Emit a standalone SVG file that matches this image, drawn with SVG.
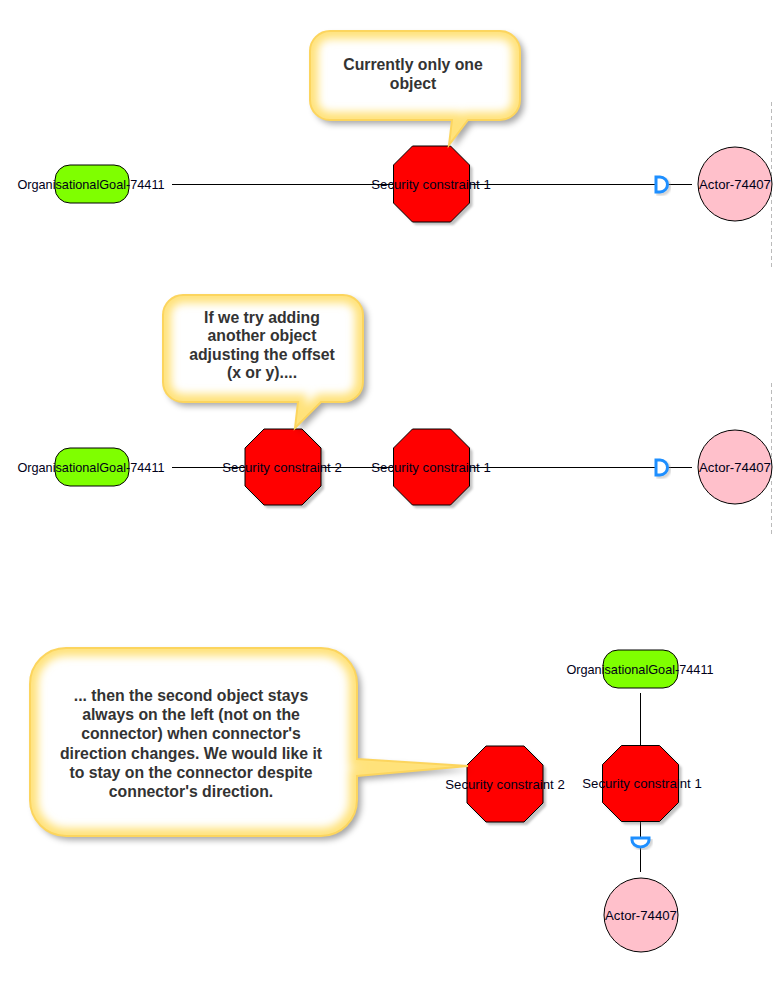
<svg xmlns="http://www.w3.org/2000/svg" xmlns:xlink="http://www.w3.org/1999/xlink" width="779" height="981" viewBox="0 0 779 981">
<style>
.oct{fill:#ff0000;stroke:#000;stroke-width:1}
.octsh{fill:#777;opacity:0.45}
.goal{fill:#7fff00;stroke:#000;stroke-width:1}
.actor{fill:#ffc0cb;stroke:#000;stroke-width:1}
.lbl{font-family:"Liberation Sans",Arial,sans-serif;font-size:13.2px;fill:#000018;text-anchor:middle}
.glbl{font-size:12.7px}
.ctext{font-family:"Liberation Sans",Arial,sans-serif;font-size:15.8px;font-weight:bold;fill:#333;text-anchor:middle}
.conn{stroke:#000;stroke-width:1;fill:none}
.mark{fill:#fff;stroke:#1e8fff;stroke-width:3}
.marksh{fill:none;stroke:#999;stroke-width:3;opacity:0.5}
.cfill{fill:#fff}
.cglow{fill:none;stroke:#ffe27a;stroke-width:16}
.cborder{fill:none;stroke:#fcd55e;stroke-width:2}
.dash{stroke:#bbb;stroke-width:1;stroke-dasharray:4 3}
</style>
<defs>
<polygon id="octagon" points="-19,-38 19,-38 38,-19 38,19 19,38 -19,38 -38,19 -38,-19"/>
<filter id="shadow" x="-20%" y="-20%" width="150%" height="150%">
<feDropShadow dx="4" dy="4" stdDeviation="3" flood-color="#000" flood-opacity="0.35"/>
</filter>
<filter id="blur2"><feGaussianBlur stdDeviation="1.2"/></filter>
<filter id="glow" x="-10%" y="-10%" width="120%" height="120%"><feGaussianBlur stdDeviation="4"/></filter>
<path id="cb1" d="M330,31 H500 A20,20 0 0 1 520,51 V100 A20,20 0 0 1 500,120 H468 L449,145 L452,120 H330 A20,20 0 0 1 310,100 V51 A20,20 0 0 1 330,31 Z"/>
<path id="cb2" d="M183,295 H343 A20,20 0 0 1 363,315 V382 A20,20 0 0 1 343,402 H321 L295,428 L298,402 H183 A20,20 0 0 1 163,382 V315 A20,20 0 0 1 183,295 Z"/>
<path id="cb3" d="M66,648 H321 A36,36 0 0 1 357,684 V759 L468,766 L357,776 V800 A36,36 0 0 1 321,836 H66 A36,36 0 0 1 30,800 V684 A36,36 0 0 1 66,648 Z"/>
<clipPath id="cc1"><use xlink:href="#cb1"/></clipPath>
<clipPath id="cc2"><use xlink:href="#cb2"/></clipPath>
<clipPath id="cc3"><use xlink:href="#cb3"/></clipPath>
</defs>

<rect width="779" height="981" fill="#fff"/>
<line class="dash" x1="771.5" y1="102" x2="771.5" y2="267"/>
<line class="dash" x1="771.5" y1="383" x2="771.5" y2="535"/>

<g id="connectors">
<line class="conn" x1="172" y1="184.5" x2="692" y2="184.5"/>
<path class="marksh" d="M658,179 H662 A7.5,7.5 0 0 1 662,194 H658 Z" filter="url(#blur2)"/>
<path class="mark" d="M656,177 H660 A7.5,7.5 0 0 1 660,192 H656 Z"/>
<line class="conn" x1="172" y1="467.5" x2="692" y2="467.5"/>
<path class="marksh" d="M658,462 H662 A7.5,7.5 0 0 1 662,477 H658 Z" filter="url(#blur2)"/>
<path class="mark" d="M656,460 H660 A7.5,7.5 0 0 1 660,475 H656 Z"/>
<line class="conn" x1="640.5" y1="693" x2="640.5" y2="872"/>
<path class="marksh" d="M634,840 H651 V842 A8.5,7 0 0 1 634,842 Z" filter="url(#blur2)"/>
<path class="mark" d="M632,838 H649 V840 A8.5,7 0 0 1 632,840 Z"/>
</g>

<g id="goal1">
<rect class="goal" x="55" y="165" width="74" height="38" rx="15"/>
<text class="lbl glbl" x="91" y="189">OrganisationalGoal-74411</text>
</g>
<g id="sc1a">
<use xlink:href="#octagon" class="octsh" transform="translate(434.5,187)" filter="url(#blur2)"/>
<use xlink:href="#octagon" class="oct" transform="translate(431.5,184)"/>
<text class="lbl" x="431" y="189">Security constraint 1</text>
</g>
<g id="actor1">
<circle class="actor" cx="735" cy="184" r="37"/>
<text class="lbl" x="735" y="189">Actor-74407</text>
</g>

<g id="goal2">
<rect class="goal" x="55" y="448" width="74" height="38" rx="15"/>
<text class="lbl glbl" x="91" y="472">OrganisationalGoal-74411</text>
</g>
<g id="sc2b">
<use xlink:href="#octagon" class="octsh" transform="translate(286,470)" filter="url(#blur2)"/>
<use xlink:href="#octagon" class="oct" transform="translate(283,467)"/>
<text class="lbl" x="282" y="472">Security constraint 2</text>
</g>
<g id="sc2a">
<use xlink:href="#octagon" class="octsh" transform="translate(434.5,470)" filter="url(#blur2)"/>
<use xlink:href="#octagon" class="oct" transform="translate(431.5,467)"/>
<text class="lbl" x="431" y="472">Security constraint 1</text>
</g>
<g id="actor2">
<circle class="actor" cx="735" cy="467" r="37"/>
<text class="lbl" x="735" y="472">Actor-74407</text>
</g>

<g id="goal3">
<rect class="goal" x="603" y="650" width="75" height="38" rx="15"/>
<text class="lbl glbl" x="640" y="674">OrganisationalGoal-74411</text>
</g>
<g id="sc3a">
<use xlink:href="#octagon" class="octsh" transform="translate(643.5,786.5)" filter="url(#blur2)"/>
<use xlink:href="#octagon" class="oct" transform="translate(640.5,783.5)"/>
<text class="lbl" x="642" y="788">Security constraint 1</text>
</g>
<g id="sc3b">
<use xlink:href="#octagon" class="octsh" transform="translate(508,787)" filter="url(#blur2)"/>
<use xlink:href="#octagon" class="oct" transform="translate(505,784)"/>
<text class="lbl" x="505" y="789">Security constraint 2</text>
</g>
<g id="actor3">
<circle class="actor" cx="641" cy="915" r="37"/>
<text class="lbl" x="641" y="920">Actor-74407</text>
</g>

<g id="callout1">
<use xlink:href="#cb1" class="cfill" filter="url(#shadow)"/>
<g clip-path="url(#cc1)"><use xlink:href="#cb1" class="cglow" filter="url(#glow)"/></g>
<use xlink:href="#cb1" class="cborder"/>
<text class="ctext" x="413" y="70">Currently only one</text>
<text class="ctext" x="413" y="89">object</text>
</g>

<g id="callout2">
<use xlink:href="#cb2" class="cfill" filter="url(#shadow)"/>
<g clip-path="url(#cc2)"><use xlink:href="#cb2" class="cglow" filter="url(#glow)"/></g>
<use xlink:href="#cb2" class="cborder"/>
<text class="ctext" x="262" y="322.5">If we try adding</text>
<text class="ctext" x="262" y="341">another object</text>
<text class="ctext" x="262" y="359.5">adjusting the offset</text>
<text class="ctext" x="262" y="378">(x or y)....</text>
</g>

<g id="callout3">
<use xlink:href="#cb3" class="cfill" filter="url(#shadow)"/>
<g clip-path="url(#cc3)"><use xlink:href="#cb3" class="cglow" filter="url(#glow)"/></g>
<use xlink:href="#cb3" class="cborder"/>
<text class="ctext" x="191" y="701">... then the second object stays</text>
<text class="ctext" x="191" y="720.2">always on the left (not on the</text>
<text class="ctext" x="191" y="739.4">connector) when connector's</text>
<text class="ctext" x="191" y="758.6">direction changes. We would like it</text>
<text class="ctext" x="191" y="777.8">to stay on the connector despite</text>
<text class="ctext" x="191" y="797">connector's direction.</text>
</g>
</svg>
